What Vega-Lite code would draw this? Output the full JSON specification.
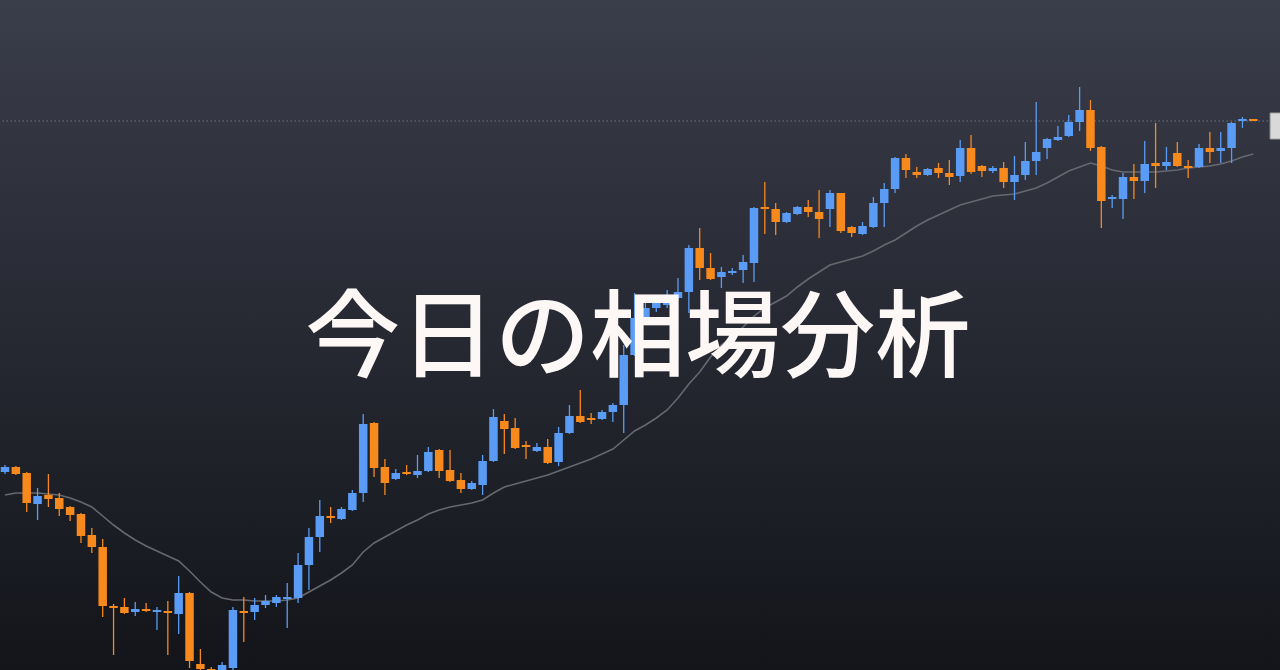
{
  "$schema": "https://vega.github.io/schema/vega-lite/v6.json",
  "width": 1280,
  "height": 670,
  "autosize": {"type": "none"},
  "padding": 0,
  "background": "#1a1c22",
  "config": {"view": {"stroke": null}},
  "datasets": {
    "candles": [
      {"i":0,"o":198,"h":205,"l":196,"c":203},
      {"i":1,"o":203,"h":204,"l":195,"c":196},
      {"i":2,"o":197,"h":198,"l":158,"c":167},
      {"i":3,"o":166,"h":182,"l":150,"c":174},
      {"i":4,"o":175,"h":196,"l":163,"c":171},
      {"i":5,"o":172,"h":177,"l":154,"c":161},
      {"i":6,"o":163,"h":164,"l":149,"c":155},
      {"i":7,"o":156,"h":157,"l":127,"c":134},
      {"i":8,"o":135,"h":142,"l":117,"c":123},
      {"i":9,"o":123,"h":131,"l":53,"c":64},
      {"i":10,"o":64,"h":66,"l":15,"c":62},
      {"i":11,"o":63,"h":72,"l":56,"c":57},
      {"i":12,"o":58,"h":68,"l":54,"c":61},
      {"i":13,"o":61,"h":67,"l":58,"c":59},
      {"i":14,"o":58,"h":63,"l":40,"c":60},
      {"i":15,"o":59,"h":69,"l":15,"c":57},
      {"i":16,"o":56,"h":94,"l":36,"c":77},
      {"i":17,"o":77,"h":78,"l":2,"c":9},
      {"i":18,"o":6,"h":21,"l":-2,"c":1},
      {"i":19,"o":1,"h":3,"l":-15,"c":-6},
      {"i":20,"o":0,"h":8,"l":-2,"c":5},
      {"i":21,"o":2,"h":63,"l":0,"c":60},
      {"i":22,"o":59,"h":73,"l":28,"c":57},
      {"i":23,"o":58,"h":72,"l":50,"c":65},
      {"i":24,"o":65,"h":75,"l":62,"c":69},
      {"i":25,"o":67,"h":75,"l":63,"c":73},
      {"i":26,"o":71,"h":87,"l":42,"c":73},
      {"i":27,"o":72,"h":117,"l":67,"c":105},
      {"i":28,"o":105,"h":142,"l":80,"c":133},
      {"i":29,"o":133,"h":170,"l":118,"c":154},
      {"i":30,"o":154,"h":163,"l":147,"c":152},
      {"i":31,"o":151,"h":163,"l":150,"c":161},
      {"i":32,"o":160,"h":180,"l":159,"c":177},
      {"i":33,"o":177,"h":256,"l":168,"c":246},
      {"i":34,"o":247,"h":248,"l":193,"c":202},
      {"i":35,"o":203,"h":211,"l":175,"c":187},
      {"i":36,"o":191,"h":201,"l":190,"c":197},
      {"i":37,"o":198,"h":205,"l":195,"c":196},
      {"i":38,"o":195,"h":215,"l":192,"c":199},
      {"i":39,"o":199,"h":223,"l":198,"c":218},
      {"i":40,"o":220,"h":221,"l":192,"c":199},
      {"i":41,"o":200,"h":220,"l":188,"c":189},
      {"i":42,"o":190,"h":197,"l":177,"c":181},
      {"i":43,"o":181,"h":189,"l":180,"c":187},
      {"i":44,"o":185,"h":215,"l":175,"c":209},
      {"i":45,"o":209,"h":261,"l":208,"c":253},
      {"i":46,"o":249,"h":256,"l":216,"c":241},
      {"i":47,"o":242,"h":252,"l":221,"c":222},
      {"i":48,"o":225,"h":229,"l":211,"c":223},
      {"i":49,"o":219,"h":227,"l":218,"c":223},
      {"i":50,"o":223,"h":231,"l":206,"c":207},
      {"i":51,"o":208,"h":243,"l":204,"c":237},
      {"i":52,"o":237,"h":265,"l":236,"c":254},
      {"i":53,"o":254,"h":280,"l":247,"c":248},
      {"i":54,"o":252,"h":257,"l":246,"c":250},
      {"i":55,"o":251,"h":260,"l":250,"c":258},
      {"i":56,"o":258,"h":267,"l":248,"c":265},
      {"i":57,"o":265,"h":325,"l":237,"c":315},
      {"i":58,"o":315,"h":377,"l":314,"c":352},
      {"i":59,"o":352,"h":370,"l":348,"c":362},
      {"i":60,"o":362,"h":374,"l":358,"c":368},
      {"i":61,"o":365,"h":380,"l":362,"c":372},
      {"i":62,"o":372,"h":392,"l":370,"c":378},
      {"i":63,"o":378,"h":425,"l":357,"c":422},
      {"i":64,"o":422,"h":442,"l":390,"c":402},
      {"i":65,"o":402,"h":417,"l":390,"c":391},
      {"i":66,"o":393,"h":403,"l":382,"c":398},
      {"i":67,"o":397,"h":402,"l":395,"c":399},
      {"i":68,"o":400,"h":415,"l":387,"c":408},
      {"i":69,"o":407,"h":463,"l":388,"c":462},
      {"i":70,"o":463,"h":488,"l":436,"c":461},
      {"i":71,"o":461,"h":467,"l":435,"c":448},
      {"i":72,"o":448,"h":458,"l":447,"c":457},
      {"i":73,"o":456,"h":464,"l":455,"c":463},
      {"i":74,"o":463,"h":470,"l":453,"c":458},
      {"i":75,"o":458,"h":480,"l":432,"c":451},
      {"i":76,"o":461,"h":480,"l":443,"c":477},
      {"i":77,"o":477,"h":477,"l":437,"c":439},
      {"i":78,"o":443,"h":444,"l":433,"c":437},
      {"i":79,"o":436,"h":448,"l":435,"c":444},
      {"i":80,"o":443,"h":473,"l":442,"c":467},
      {"i":81,"o":467,"h":487,"l":443,"c":481},
      {"i":82,"o":481,"h":513,"l":477,"c":512},
      {"i":83,"o":512,"h":516,"l":492,"c":500},
      {"i":84,"o":498,"h":503,"l":492,"c":495},
      {"i":85,"o":495,"h":502,"l":494,"c":501},
      {"i":86,"o":502,"h":507,"l":492,"c":497},
      {"i":87,"o":497,"h":510,"l":485,"c":493},
      {"i":88,"o":494,"h":530,"l":488,"c":522},
      {"i":89,"o":522,"h":535,"l":496,"c":498},
      {"i":90,"o":504,"h":505,"l":493,"c":499},
      {"i":91,"o":499,"h":504,"l":497,"c":502},
      {"i":92,"o":502,"h":508,"l":482,"c":488},
      {"i":93,"o":488,"h":514,"l":470,"c":495},
      {"i":94,"o":495,"h":528,"l":490,"c":509},
      {"i":95,"o":509,"h":568,"l":495,"c":518},
      {"i":96,"o":522,"h":532,"l":511,"c":531},
      {"i":97,"o":530,"h":544,"l":529,"c":533},
      {"i":98,"o":534,"h":555,"l":533,"c":548},
      {"i":99,"o":548,"h":583,"l":539,"c":560},
      {"i":100,"o":560,"h":570,"l":519,"c":522},
      {"i":101,"o":523,"h":524,"l":442,"c":469},
      {"i":102,"o":471,"h":475,"l":462,"c":473},
      {"i":103,"o":471,"h":497,"l":451,"c":493},
      {"i":104,"o":493,"h":506,"l":471,"c":489},
      {"i":105,"o":489,"h":529,"l":477,"c":506},
      {"i":106,"o":507,"h":547,"l":482,"c":504},
      {"i":107,"o":504,"h":523,"l":500,"c":508},
      {"i":108,"o":517,"h":528,"l":503,"c":504},
      {"i":109,"o":504,"h":510,"l":492,"c":502},
      {"i":110,"o":503,"h":526,"l":502,"c":522},
      {"i":111,"o":522,"h":538,"l":507,"c":518},
      {"i":112,"o":519,"h":538,"l":507,"c":522},
      {"i":113,"o":522,"h":548,"l":507,"c":547},
      {"i":114,"o":549,"h":553,"l":542,"c":551},
      {"i":115,"o":551,"h":551,"l":549,"c":549}
    ],
    "ma": [
      {"i":0,"v":175},{"i":1,"v":177},{"i":2,"v":177},{"i":3,"v":177},{"i":4,"v":176},
      {"i":5,"v":175},{"i":6,"v":172},{"i":7,"v":168},{"i":8,"v":163},{"i":9,"v":154},
      {"i":10,"v":145},{"i":11,"v":137},{"i":12,"v":130},{"i":13,"v":124},{"i":14,"v":119},
      {"i":15,"v":114},{"i":16,"v":109},{"i":17,"v":99},{"i":18,"v":88},{"i":19,"v":78},
      {"i":20,"v":72},{"i":21,"v":70},{"i":22,"v":70},{"i":23,"v":69},{"i":24,"v":69},
      {"i":25,"v":69},{"i":26,"v":70},{"i":27,"v":72},{"i":28,"v":78},{"i":29,"v":84},
      {"i":30,"v":90},{"i":31,"v":97},{"i":32,"v":105},{"i":33,"v":118},{"i":34,"v":127},
      {"i":35,"v":133},{"i":36,"v":139},{"i":37,"v":145},{"i":38,"v":150},{"i":39,"v":156},
      {"i":40,"v":160},{"i":41,"v":163},{"i":42,"v":165},{"i":43,"v":167},{"i":44,"v":170},
      {"i":45,"v":177},{"i":46,"v":183},{"i":47,"v":186},{"i":48,"v":189},{"i":49,"v":192},
      {"i":50,"v":195},{"i":51,"v":199},{"i":52,"v":203},{"i":53,"v":207},{"i":54,"v":211},
      {"i":55,"v":216},{"i":56,"v":221},{"i":57,"v":230},{"i":58,"v":239},{"i":59,"v":245},
      {"i":60,"v":252},{"i":61,"v":260},{"i":62,"v":272},{"i":63,"v":286},{"i":64,"v":298},
      {"i":65,"v":313},{"i":66,"v":325},{"i":67,"v":334},{"i":68,"v":343},{"i":69,"v":354},
      {"i":70,"v":362},{"i":71,"v":368},{"i":72,"v":374},{"i":73,"v":383},{"i":74,"v":391},
      {"i":75,"v":398},{"i":76,"v":405},{"i":77,"v":408},{"i":78,"v":411},{"i":79,"v":414},
      {"i":80,"v":419},{"i":81,"v":425},{"i":82,"v":430},{"i":83,"v":437},{"i":84,"v":444},
      {"i":85,"v":450},{"i":86,"v":455},{"i":87,"v":460},{"i":88,"v":465},{"i":89,"v":468},
      {"i":90,"v":471},{"i":91,"v":474},{"i":92,"v":475},{"i":93,"v":476},{"i":94,"v":479},
      {"i":95,"v":482},{"i":96,"v":487},{"i":97,"v":493},{"i":98,"v":499},{"i":99,"v":503},
      {"i":100,"v":507},{"i":101,"v":504},{"i":102,"v":500},{"i":103,"v":498},{"i":104,"v":498},
      {"i":105,"v":498},{"i":106,"v":498},{"i":107,"v":499},{"i":108,"v":500},{"i":109,"v":502},
      {"i":110,"v":503},{"i":111,"v":504},{"i":112,"v":506},{"i":113,"v":509},{"i":114,"v":513},
      {"i":115,"v":516}
    ]
  },
  "layer": [
    {
      "data": {"values": [{"x0": -2, "x1": 120, "p0": -10, "p1": 680}]},
      "mark": {"type": "rect", "fill": {"gradient": "linear", "x1": 0, "y1": 0, "x2": 0, "y2": 1, "stops": [{"offset": 0, "color": "#3b3e4b"}, {"offset": 0.5, "color": "#262932"}, {"offset": 1, "color": "#121419"}]}, "clip": true},
      "encoding": {
        "x": {"field": "x0", "type": "quantitative", "scale": {"domain": [0, 117], "nice": false, "zero": false}, "axis": null},
        "x2": {"field": "x1"},
        "y": {"field": "p1", "type": "quantitative", "scale": {"domain": [0, 670], "nice": false, "zero": false}, "axis": null},
        "y2": {"field": "p0"}
      }
    },
    {
      "data": {"values": [{"p": 549}]},
      "mark": {"type": "rule", "stroke": "#80838d", "strokeWidth": 1, "strokeDash": [1.5, 2.5], "opacity": 0.8},
      "encoding": {
        "y": {"field": "p", "type": "quantitative", "scale": {"domain": [0, 670], "nice": false, "zero": false}, "axis": null}
      }
    },
    {
      "data": {"name": "ma"},
      "mark": {"type": "line", "stroke": "#66686f", "strokeWidth": 1.6, "clip": true},
      "encoding": {
        "x": {"field": "i", "type": "quantitative", "scale": {"domain": [0, 117], "nice": false, "zero": false}, "axis": null},
        "y": {"field": "v", "type": "quantitative", "scale": {"domain": [0, 670], "nice": false, "zero": false}, "axis": null}
      }
    },
    {
      "data": {"name": "candles"},
      "mark": {"type": "rule", "strokeWidth": 1.3, "clip": true},
      "encoding": {
        "x": {"field": "i", "type": "quantitative", "scale": {"domain": [0, 117], "nice": false, "zero": false}, "axis": null},
        "y": {"field": "l", "type": "quantitative", "scale": {"domain": [0, 670], "nice": false, "zero": false}, "axis": null},
        "y2": {"field": "h"},
        "color": {"condition": {"test": "datum.c >= datum.o", "value": "#5a9cf5"}, "value": "#f7891d"}
      }
    },
    {
      "data": {"name": "candles"},
      "mark": {"type": "bar", "size": 8.5, "clip": true},
      "encoding": {
        "x": {"field": "i", "type": "quantitative", "scale": {"domain": [0, 117], "nice": false, "zero": false}, "axis": null},
        "y": {"field": "o", "type": "quantitative", "scale": {"domain": [0, 670], "nice": false, "zero": false}, "axis": null},
        "y2": {"field": "c"},
        "color": {"condition": {"test": "datum.c >= datum.o", "value": "#5a9cf5"}, "value": "#f7891d"}
      }
    },
    {
      "data": {"values": [{"x0": 116.55, "x1": 117.6, "p0": 531, "p1": 557}]},
      "mark": {"type": "rect", "fill": "#d9d9d9", "stroke": "#a0a0a0", "strokeWidth": 1, "clip": true},
      "encoding": {
        "x": {"field": "x0", "type": "quantitative", "scale": {"domain": [0, 117], "nice": false, "zero": false}, "axis": null},
        "x2": {"field": "x1"},
        "y": {"field": "p1", "type": "quantitative", "scale": {"domain": [0, 670], "nice": false, "zero": false}, "axis": null},
        "y2": {"field": "p0"}
      }
    },
    {
      "data": {"values": [{"x": 58.3, "p": 329, "t": "今日の相場分析"}]},
      "mark": {"type": "text", "font": "Noto Sans CJK JP", "fontSize": 95, "fontWeight": 500, "fill": "#fdf8f6", "align": "center", "baseline": "middle"},
      "encoding": {
        "x": {"field": "x", "type": "quantitative", "scale": {"domain": [0, 117], "nice": false, "zero": false}, "axis": null},
        "y": {"field": "p", "type": "quantitative", "scale": {"domain": [0, 670], "nice": false, "zero": false}, "axis": null},
        "text": {"field": "t"}
      }
    }
  ]
}
